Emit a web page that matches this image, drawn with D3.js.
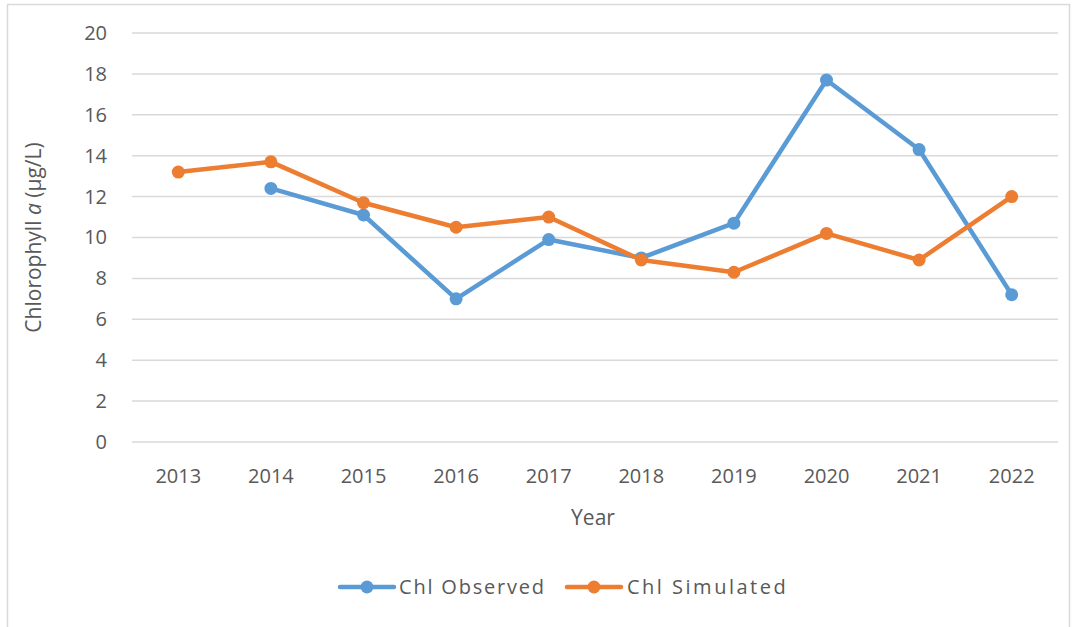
<!DOCTYPE html>
<html>
<head>
<meta charset="utf-8">
<script src="https://cdn.jsdelivr.net/npm/d3@7.9.0/dist/d3.min.js"></script>
<style>
  body { margin: 0; background: #fff; }
  svg text { font-family: "Open Sans", sans-serif; fill: #595959; }
</style>
</head>
<body>
<svg id="chart" width="1078" height="627"></svg>
<script>
const years = ['2013', '2014', '2015', '2016', '2017', '2018', '2019', '2020', '2021', '2022'];
const observed = [null, 12.4, 11.1, 7.0, 9.9, 9.0, 10.7, 17.7, 14.3, 7.2];
const simulated = [13.2, 13.7, 11.7, 10.5, 11.0, 8.9, 8.3, 10.2, 8.9, 12.0];
const yTicks = [0, 2, 4, 6, 8, 10, 12, 14, 16, 18, 20];

const svg = d3.select('#chart');
const plotLeft = 132, plotRight = 1058, plotTop = 33, plotBottom = 442;

// chart frame
svg.append('rect')
  .attr('x', 7.5).attr('y', 4.5).attr('width', 1062).attr('height', 640)
  .attr('fill', 'none').attr('stroke', '#d9d9d9').attr('stroke-width', 1.5);

const x = d3.scaleBand().domain(years).range([plotLeft, plotRight]).padding(0);
const y = d3.scaleLinear().domain([0, 20]).range([plotBottom, plotTop]);

// gridlines
svg.append('g')
  .selectAll('line')
  .data(yTicks)
  .join('line')
  .attr('x1', plotLeft).attr('x2', plotRight)
  .attr('y1', d => y(d)).attr('y2', d => y(d))
  .attr('stroke', '#d9d9d9').attr('stroke-width', 1.5);

// y axis labels
const yAxis = svg.append('g')
  .attr('transform', `translate(${plotLeft},0)`)
  .call(d3.axisLeft(y).tickValues(yTicks).tickSize(0).tickPadding(25));
yAxis.select('.domain').remove();
yAxis.selectAll('text').style('font-size', '20px').style('font-family', '"Open Sans", sans-serif').attr('fill', '#595959');

// x axis labels
const xAxis = svg.append('g')
  .attr('transform', `translate(0,${plotBottom})`)
  .call(d3.axisBottom(x).tickSize(0).tickPadding(27));
xAxis.select('.domain').remove();
xAxis.selectAll('text').style('font-size', '20px').style('font-family', '"Open Sans", sans-serif').attr('fill', '#595959');

// axis titles
svg.append('text')
  .attr('transform', `translate(41,${(plotTop + plotBottom) / 2}) rotate(-90)`)
  .attr('text-anchor', 'middle')
  .style('font-size', '21px')
  .html('Chlorophyll <tspan font-style="italic">a</tspan> (µg/L)');

svg.append('text')
  .attr('x', 593).attr('y', 525)
  .attr('text-anchor', 'middle')
  .style('font-size', '21px')
  .text('Year');

const cx = d => x(d) + x.bandwidth() / 2;
const series = [
  { name: 'Chl Observed', values: observed, color: '#5b9bd5' },
  { name: 'Chl Simulated', values: simulated, color: '#ed7d31' }
];

const line = d3.line()
  .defined(d => d.v !== null)
  .x(d => cx(d.year))
  .y(d => y(d.v));

series.forEach(s => {
  const pts = years.map((yr, i) => ({ year: yr, v: s.values[i] }));
  svg.append('path')
    .datum(pts)
    .attr('d', line)
    .attr('fill', 'none')
    .attr('stroke', s.color)
    .attr('stroke-width', 4.5)
    .attr('stroke-linejoin', 'round')
    .attr('stroke-linecap', 'round');
  svg.append('g')
    .selectAll('circle')
    .data(pts.filter(d => d.v !== null))
    .join('circle')
    .attr('cx', d => cx(d.year))
    .attr('cy', d => y(d.v))
    .attr('r', 6.5)
    .attr('fill', s.color);
});

// legend
const legendItems = [
  { x0: 340, textX: 399, spacing: 1.8 },
  { x0: 567, textX: 627, spacing: 2.5 }
];
series.forEach((s, i) => {
  const g = svg.append('g').attr('transform', `translate(${legendItems[i].x0},587)`);
  g.append('line').attr('x1', 0).attr('x2', 54).attr('y1', 0).attr('y2', 0)
    .attr('stroke', s.color).attr('stroke-width', 4.5).attr('stroke-linecap', 'round');
  g.append('circle').attr('cx', 27).attr('cy', 0).attr('r', 6.5).attr('fill', s.color);
  svg.append('text')
    .attr('x', legendItems[i].textX).attr('y', 594)
    .style('font-size', '20px')
    .style('letter-spacing', legendItems[i].spacing + 'px')
    .text(s.name);
});
</script>
</body>
</html>
